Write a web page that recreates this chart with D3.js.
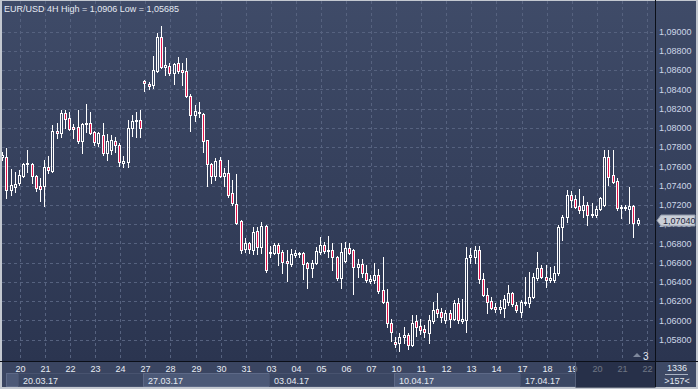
<!DOCTYPE html>
<html>
<head>
<meta charset="utf-8">
<script src="https://cdn.jsdelivr.net/npm/d3@7"></script>
<style>
  body { margin: 0; background: #c3c8d0; }
  svg { display: block; }
  text { font-family: "Liberation Sans", Arial, sans-serif; font-size: 9px; }
</style>
</head>
<body>
<svg id="chart" width="698" height="389"></svg>
<script>
// --------------------
// Data (EUR/USD, 4H candles, index 0 = 20.03.17 00:00)
// --------------------
const firstIndex = -4;

const opens = [
  1.0770, 1.0770, 1.0736, 1.0739,
  1.0743, 1.0750, 1.0763, 1.0763, 1.0750, 1.0740,
  1.0740, 1.0759, 1.0755, 1.0797, 1.0795, 1.0816,
  1.0810, 1.0801, 1.0801, 1.0786, 1.0804, 1.0805,
  1.0796, 1.0784, 1.0793, 1.0774, 1.0777, 1.0786,
  1.0782, 1.0764, 1.0765, 1.0800, 1.0807, 1.0808,
  1.0849, 1.0846, 1.0845, 1.0859, 1.0894, 1.0863,
  1.0864, 1.0857, 1.0867, 1.0860, 1.0859, 1.0833,
  1.0813, 1.0816, 1.0815, 1.0787, 1.0763, 1.0750,
  1.0767, 1.0750, 1.0753, 1.0732, 1.0721, 1.0703,
  1.0674, 1.0680, 1.0673, 1.0693, 1.0676, 1.0698,
  1.0670, 1.0670, 1.0678, 1.0671, 1.0662, 1.0659,
  1.0668, 1.0669, 1.0670, 1.0660, 1.0654, 1.0660,
  1.0671, 1.0678, 1.0672, 1.0673, 1.0666, 1.0644,
  1.0662, 1.0675, 1.0673, 1.0656, 1.0659, 1.0649,
  1.0641, 1.0642, 1.0647, 1.0632, 1.0619, 1.0597,
  1.0578, 1.0577, 1.0583, 1.0585, 1.0574, 1.0599,
  1.0594, 1.0591, 1.0587, 1.0599, 1.0612, 1.0609,
  1.0600, 1.0608, 1.0601, 1.0618, 1.0599, 1.0600,
  1.0666, 1.0666, 1.0673, 1.0643, 1.0626, 1.0620,
  1.0614, 1.0612, 1.0613, 1.0619, 1.0629, 1.0616,
  1.0609, 1.0618, 1.0618, 1.0624, 1.0644, 1.0654,
  1.0645, 1.0642, 1.0642, 1.0649, 1.0697, 1.0707,
  1.0730, 1.0726, 1.0719, 1.0715, 1.0720, 1.0710,
  1.0710, 1.0716, 1.0720, 1.0770, 1.0751, 1.0745,
  1.0717, 1.0718, 1.0716, 1.0719, 1.0701
];

const highs = [
  1.0775, 1.0779, 1.0757, 1.0754,
  1.0756, 1.0764, 1.0777, 1.0764, 1.0751, 1.0748,
  1.0767, 1.0771, 1.0803, 1.0805, 1.0819, 1.0819,
  1.0817, 1.0804, 1.0819, 1.0805, 1.0825, 1.0817,
  1.0797, 1.0796, 1.0805, 1.0794, 1.0793, 1.0791,
  1.0784, 1.0771, 1.0808, 1.0813, 1.0817, 1.0819,
  1.0850, 1.0848, 1.0875, 1.0899, 1.0906, 1.0884,
  1.0868, 1.0868, 1.0874, 1.0868, 1.0873, 1.0835,
  1.0824, 1.0827, 1.0816, 1.0788, 1.0764, 1.0769,
  1.0770, 1.0758, 1.0767, 1.0746, 1.0752, 1.0704,
  1.0686, 1.0681, 1.0697, 1.0697, 1.0702, 1.0699,
  1.0677, 1.0680, 1.0680, 1.0673, 1.0673, 1.0674,
  1.0673, 1.0671, 1.0671, 1.0661, 1.0663, 1.0676,
  1.0687, 1.0681, 1.0688, 1.0680, 1.0667, 1.0680,
  1.0681, 1.0680, 1.0674, 1.0664, 1.0664, 1.0658,
  1.0647, 1.0660, 1.0653, 1.0666, 1.0633, 1.0602,
  1.0583, 1.0587, 1.0593, 1.0587, 1.0606, 1.0606,
  1.0602, 1.0595, 1.0606, 1.0619, 1.0629, 1.0613,
  1.0611, 1.0611, 1.0621, 1.0623, 1.0622, 1.0676,
  1.0675, 1.0677, 1.0677, 1.0649, 1.0634, 1.0624,
  1.0618, 1.0621, 1.0626, 1.0637, 1.0630, 1.0619,
  1.0621, 1.0645, 1.0650, 1.0649, 1.0671, 1.0658,
  1.0658, 1.0656, 1.0657, 1.0699, 1.0710, 1.0736,
  1.0735, 1.0730, 1.0737, 1.0729, 1.0723, 1.0722,
  1.0719, 1.0728, 1.0777, 1.0777, 1.0777, 1.0748,
  1.0720, 1.0720, 1.0739, 1.0720, 1.0706
];

const lows = [
  1.0767, 1.0727, 1.0730, 1.0733,
  1.0741, 1.0749, 1.0754, 1.0743, 1.0734, 1.0724,
  1.0719, 1.0753, 1.0754, 1.0790, 1.0791, 1.0800,
  1.0798, 1.0790, 1.0784, 1.0774, 1.0796, 1.0794,
  1.0782, 1.0781, 1.0772, 1.0767, 1.0773, 1.0775,
  1.0760, 1.0759, 1.0759, 1.0792, 1.0791, 1.0791,
  1.0838, 1.0840, 1.0842, 1.0858, 1.0862, 1.0855,
  1.0855, 1.0846, 1.0857, 1.0845, 1.0832, 1.0797,
  1.0807, 1.0811, 1.0775, 1.0740, 1.0743, 1.0746,
  1.0749, 1.0740, 1.0728, 1.0720, 1.0700, 1.0670,
  1.0671, 1.0670, 1.0669, 1.0669, 1.0670, 1.0650,
  1.0666, 1.0669, 1.0658, 1.0649, 1.0641, 1.0657,
  1.0666, 1.0666, 1.0643, 1.0634, 1.0645, 1.0659,
  1.0669, 1.0670, 1.0666, 1.0652, 1.0642, 1.0634,
  1.0661, 1.0669, 1.0627, 1.0645, 1.0645, 1.0640,
  1.0639, 1.0639, 1.0629, 1.0618, 1.0593, 1.0579,
  1.0572, 1.05685, 1.0577, 1.0570, 1.0573, 1.0584,
  1.0586, 1.0583, 1.0577, 1.0597, 1.0604, 1.0598,
  1.0597, 1.0593, 1.0600, 1.0597, 1.0597, 1.0588,
  1.0660, 1.0660, 1.0639, 1.0625, 1.0608, 1.0612,
  1.0609, 1.0608, 1.0604, 1.0616, 1.0615, 1.0609,
  1.0604, 1.0616, 1.0614, 1.0623, 1.0642, 1.0644,
  1.0635, 1.0640, 1.0640, 1.0647, 1.0684, 1.0702,
  1.0718, 1.0717, 1.0712, 1.0708, 1.0699, 1.0708,
  1.0708, 1.0715, 1.0719, 1.0741, 1.0743, 1.0715,
  1.0706, 1.0715, 1.0701, 1.0687, 1.0699
];

const closes = [
  1.0772, 1.0736, 1.0741, 1.0742,
  1.0751, 1.0763, 1.0764, 1.0750, 1.0738, 1.0737,
  1.0759, 1.0756, 1.0797, 1.0795, 1.0816, 1.0809,
  1.0799, 1.0799, 1.0786, 1.0804, 1.0805, 1.0795,
  1.0785, 1.0795, 1.0774, 1.0786, 1.0787, 1.0782,
  1.0765, 1.0766, 1.0800, 1.0807, 1.0808, 1.0800,
  1.0847, 1.0844, 1.0860, 1.0895, 1.0863, 1.0865,
  1.0857, 1.0866, 1.0859, 1.0858, 1.0833, 1.0813,
  1.0818, 1.0817, 1.0786, 1.0763, 1.0750, 1.0766,
  1.0750, 1.0753, 1.0730, 1.0722, 1.0701, 1.0673,
  1.0680, 1.0674, 1.0692, 1.0676, 1.0698, 1.0652,
  1.0671, 1.0678, 1.0670, 1.0661, 1.0660, 1.0669,
  1.0670, 1.0670, 1.0659, 1.0654, 1.0660, 1.0672,
  1.0678, 1.0672, 1.0673, 1.0666, 1.0644, 1.0671,
  1.0675, 1.0670, 1.0656, 1.0659, 1.0649, 1.0642,
  1.0643, 1.0647, 1.0631, 1.0619, 1.0597, 1.0588,
  1.0576, 1.0583, 1.0585, 1.0574, 1.0597, 1.0593,
  1.0590, 1.0588, 1.0600, 1.0611, 1.0608, 1.0604,
  1.0608, 1.0601, 1.0618, 1.0600, 1.0602, 1.0665,
  1.0668, 1.0673, 1.0643, 1.0626, 1.0619, 1.0613,
  1.0612, 1.0614, 1.0622, 1.0629, 1.0617, 1.0611,
  1.0619, 1.0619, 1.0624, 1.0645, 1.0654, 1.0645,
  1.0642, 1.0644, 1.0649, 1.0697, 1.0707, 1.0730,
  1.0725, 1.0718, 1.0715, 1.0720, 1.0710, 1.0711,
  1.0716, 1.0727, 1.0770, 1.0749, 1.0744, 1.0717,
  1.0718, 1.0717, 1.0719, 1.0701, 1.0704
];

// day labels, one every 6 candles starting at index 0
const dayLabels = ["20", "21", "22", "23", "24", "27", "28", "29", "30", "31",
                   "03", "04", "05", "06", "07", "10", "11", "12", "13", "14",
                   "17", "18", "19", "20", "21", "22"];
// week labels, one every 30 candles (previous week is only a stub)
const weekLabels = ["", "20.03.17", "27.03.17", "03.04.17", "10.04.17", "17.04.17"];
const priceTicks = d3.range(1.058, 1.0901, 0.002);

const title = "EUR/USD 4H High = 1,0906 Low = 1,05685";
const lastPrice = 1.0704;
const barsInfo = ["1336", ">157<"];

// --------------------
// Layout
// --------------------
const W = 698, H = 389;
const plot = {left: 2, right: 655, top: 1, bottom: 361};
const svg = d3.select("#chart");

const x = d3.scaleLinear().domain([0, 148]).range([19, 637.6]);
const y = d3.scaleLinear().domain([1.058, 1.090]).range([339.7, 31.7]);
const fmt = v => d3.format(".5f")(v).replace(".", ",");

const candles = opens.map((o, k) => ({
  i: firstIndex + k, o: o, h: highs[k], l: lows[k], c: closes[k]
}));

// background gradient
const defs = svg.append("defs");
const grad = defs.append("linearGradient").attr("id", "bg")
  .attr("x1", 0).attr("y1", 0).attr("x2", 0).attr("y2", 1);
grad.append("stop").attr("offset", "0%").attr("stop-color", "#3f4b68");
grad.append("stop").attr("offset", "100%").attr("stop-color", "#2b3550");
defs.append("clipPath").attr("id", "plotClip").append("rect")
  .attr("x", plot.left).attr("y", plot.top)
  .attr("width", plot.right - plot.left).attr("height", plot.bottom - plot.top);

svg.append("rect").attr("x", 0).attr("y", 0).attr("width", W).attr("height", H)
  .attr("fill", "#c3c8d0");
svg.append("rect").attr("x", 2).attr("y", 1).attr("width", W - 4).attr("height", plot.bottom - 1)
  .attr("fill", "url(#bg)");

// --------------------
// Grid
// --------------------
const grid = svg.append("g").attr("clip-path", "url(#plotClip)")
  .attr("stroke", "#56627f").attr("stroke-dasharray", "3,3")
  .attr("shape-rendering", "crispEdges");

grid.selectAll(".hgrid").data(priceTicks).enter().append("line")
  .attr("x1", plot.left).attr("x2", plot.right)
  .attr("y1", d => Math.round(y(d)) + 0.5).attr("y2", d => Math.round(y(d)) + 0.5);

grid.selectAll(".vgrid").data(dayLabels).enter().append("line")
  .attr("x1", (d, k) => Math.round(x(k * 6)) + 1.5).attr("x2", (d, k) => Math.round(x(k * 6)) + 1.5)
  .attr("y1", plot.top).attr("y2", plot.bottom);

// --------------------
// Candles
// --------------------
const cg = svg.append("g").attr("clip-path", "url(#plotClip)")
  .attr("shape-rendering", "crispEdges");

candles.forEach(d => {
  const cx = Math.round(x(d.i));
  const top = Math.round(y(Math.max(d.o, d.c)));
  const bot = Math.round(y(Math.min(d.o, d.c)));
  const yh = Math.round(y(d.h));
  const yl = Math.round(y(d.l));
  const bear = d.c < d.o;

  // wick drawn only outside the body so hollow bodies stay empty
  if (yh < top) {
    cg.append("line").attr("x1", cx + 0.5).attr("x2", cx + 0.5)
      .attr("y1", yh).attr("y2", top).attr("stroke", "#fff");
  }
  if (yl > bot) {
    cg.append("line").attr("x1", cx + 0.5).attr("x2", cx + 0.5)
      .attr("y1", bot + 1).attr("y2", yl + 1).attr("stroke", "#fff");
  }
  if (bot - top < 2) {
    cg.append("rect").attr("x", cx - 1).attr("y", top)
      .attr("width", 3).attr("height", Math.max(1, bot - top + 1)).attr("fill", "#fff");
  } else {
    cg.append("rect").attr("x", cx - 0.5).attr("y", top + 0.5)
      .attr("width", 2).attr("height", bot - top)
      .attr("fill", bear ? "#e3154c" : "none")
      .attr("stroke", "#fff").attr("stroke-width", 1);
  }
});

// --------------------
// Right price axis
// --------------------
svg.append("g").selectAll("text").data(priceTicks).enter().append("text")
  .attr("x", 659).attr("y", d => y(d)).attr("dy", "0.35em")
  .attr("fill", "#cdd7e8").text(d => fmt(d));

// current price tag (covers the 1,07000 label like the original)
const py = Math.round(y(lastPrice)) + 0.5;
svg.append("path")
  .attr("d", `M657,${py} L661,${py - 5.5} L695,${py - 5.5} L695,${py + 5.5} L661,${py + 5.5} Z`)
  .attr("fill", "#c9ced7").attr("stroke", "#9099aa");
svg.append("text").attr("x", 663).attr("y", py).attr("dy", "0.35em")
  .attr("fill", "#1d2740").text(fmt(lastPrice));

// --------------------
// Bottom time axis
// --------------------
svg.append("rect").attr("x", 2).attr("y", plot.bottom).attr("width", W - 4).attr("height", H - plot.bottom - 2)
  .attr("fill", "#3a4561");

// week boxes
const weekG = svg.append("g").attr("shape-rendering", "crispEdges");
weekLabels.forEach((lab, w) => {
  const x0 = w === 0 ? 6 : Math.round(x((w - 1) * 30)) - 0.5;
  const x1 = w === weekLabels.length - 1 ? 575 : Math.round(x(w * 30)) - 0.5;
  const light = w % 2 === 0;
  weekG.append("rect").attr("x", x0).attr("y", 373.5)
    .attr("width", x1 - x0).attr("height", 13)
    .attr("fill", light ? "#4c5977" : "#3b4763")
    .attr("stroke", light ? "#5d6987" : "#48536f");
  if (lab) {
    weekG.append("text").attr("x", x0 + 4.5).attr("y", 383.5)
      .attr("fill", "#e4e9f2").text(lab);
  }
});

svg.append("g").selectAll("text").data(dayLabels).enter().append("text")
  .attr("x", (d, k) => Math.round(x(k * 6)) + 1.5).attr("y", 372)
  .attr("text-anchor", "middle").attr("fill", "#e8ecf4").text(d => d);

// dimmed area at the end of the time axis
svg.append("rect").attr("x", 575.5).attr("y", plot.bottom + 1).attr("width", 80).attr("height", 26)
  .attr("fill", "#1b2339").attr("opacity", 0.6);
svg.append("line").attr("x1", 575.5).attr("x2", 575.5).attr("y1", plot.bottom + 1).attr("y2", H - 2)
  .attr("stroke", "#55607a");

// bars counter box
svg.append("rect").attr("x", 656).attr("y", 362).attr("width", 40).attr("height", 25)
  .attr("fill", "#3d4965");
svg.append("text").attr("x", 677).attr("y", 370.5).attr("text-anchor", "middle")
  .attr("fill", "#e4e9f2").text(barsInfo[0]);
svg.append("line").attr("x1", 665).attr("x2", 688).attr("y1", 374.5).attr("y2", 374.5)
  .attr("stroke", "#aab3c3");
svg.append("text").attr("x", 677).attr("y", 384).attr("text-anchor", "middle")
  .attr("fill", "#e4e9f2").text(barsInfo[1]);

// separator lines
svg.append("line").attr("x1", 0).attr("x2", W).attr("y1", plot.bottom + 0.5).attr("y2", plot.bottom + 0.5)
  .attr("stroke", "#0b0f18");
svg.append("line").attr("x1", plot.right + 0.5).attr("x2", plot.right + 0.5).attr("y1", 0).attr("y2", H - 2)
  .attr("stroke", "#0b0f18");

// shift marker
svg.append("path").attr("d", "M633,357 L637,353 L641,357 Z").attr("fill", "#7e889c");
svg.append("text").attr("x", 643).attr("y", 359.5).attr("fill", "#e4e9f2")
  .style("font-size", "10px").text("3");

// title
svg.append("text").attr("x", 4).attr("y", 11.5).attr("fill", "#e4e9f2").text(title);
</script>
</body>
</html>
